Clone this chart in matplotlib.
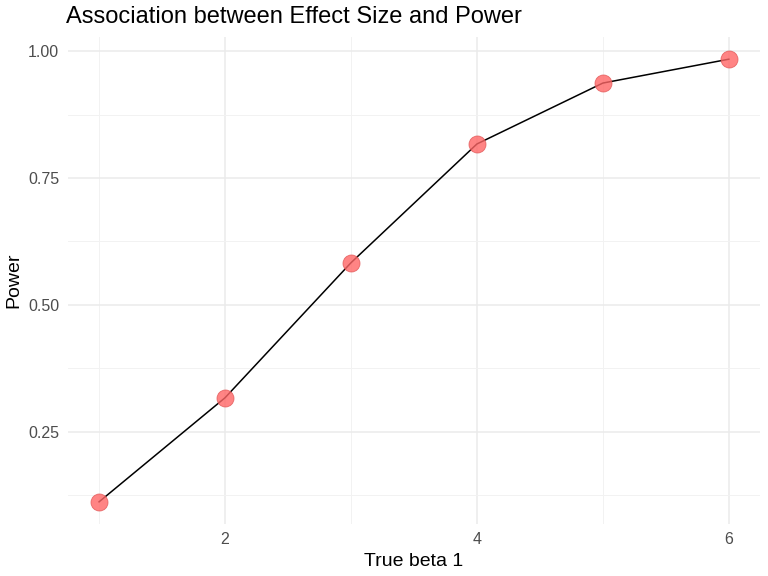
import matplotlib
matplotlib.use("Agg")
import matplotlib.pyplot as plt
from matplotlib.ticker import MultipleLocator

plt.rcParams['font.family'] = ['Liberation Sans', 'DejaVu Sans']

beta1 = [1, 2, 3, 4, 5, 6]
power = [0.112, 0.317, 0.583, 0.817, 0.937, 0.984]

fig = plt.figure(figsize=(7.68, 5.76), dpi=100)
ax = fig.add_axes([0.088, 0.090, 0.902, 0.846])

ax.plot(beta1, power, color="black", lw=1.1, zorder=2)
ax.scatter(beta1, power, s=150, color="#FF6666", alpha=0.8, edgecolors="#E05555", linewidths=0.6, zorder=3)

ax.set_xlim(0.75, 6.25)
ax.set_ylim(0.068, 1.028)
ax.xaxis.set_major_locator(MultipleLocator(2))
ax.xaxis.set_minor_locator(MultipleLocator(1))
ax.yaxis.set_minor_locator(MultipleLocator(0.125))
ax.set_yticks([0.25, 0.5, 0.75, 1.0])
ax.set_yticklabels(["0.25", "0.50", "0.75", "1.00"])
ax.grid(which="major", color="#EBEBEB", lw=1.1)
ax.grid(which="minor", color="#F2F2F2", lw=0.7)
ax.set_axisbelow(True)
for s in ax.spines.values():
    s.set_visible(False)
ax.tick_params(which="both", length=0, labelsize=11.5, labelcolor="#4D4D4D", pad=6)

ax.set_xlabel("True beta 1", fontsize=14, labelpad=4)
ax.set_ylabel("Power", fontsize=14, labelpad=4)
fig.text(0.086, 0.97, "Association between Effect Size and Power", fontsize=17, va="center", ha="left")

fig.savefig("out.png", dpi=100)
